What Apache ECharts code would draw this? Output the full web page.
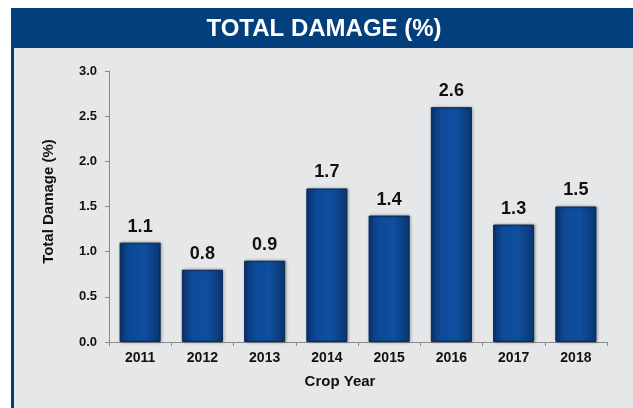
<!DOCTYPE html>
<html>
<head>
<meta charset="utf-8">
<script src="https://cdn.jsdelivr.net/npm/echarts@6/dist/echarts.min.js"></script>
<style>
  html, body { margin: 0; padding: 0; background: #fff; }
  #chart { width: 633px; height: 408px; }
</style>
</head>
<body>
<div id="chart"></div>
<script>
// data
const years = ['2011', '2012', '2013', '2014', '2015', '2016', '2017', '2018'];
const damage = [1.1, 0.8, 0.9, 1.7, 1.4, 2.6, 1.3, 1.5];
const yTicks = [0, 0.5, 1.0, 1.5, 2.0, 2.5, 3.0];

const chart = echarts.init(document.getElementById('chart'));

const FONT = '"Liberation Sans", Arial, sans-serif';

const barFill = new echarts.graphic.LinearGradient(0, 0, 1, 0, [
  { offset: 0, color: '#0a3572' },
  { offset: 0.25, color: '#0d4a98' },
  { offset: 0.6, color: '#0f4f9f' },
  { offset: 1, color: '#0a3670' }
]);

const option = {
  animation: false,
  graphic: [
    // gray panel + blue frame
    { type: 'rect', z: -10, shape: { x: 11, y: 8, width: 622, height: 400 }, style: { fill: '#e6e7e8' } },
    { type: 'rect', z: -9, shape: { x: 11, y: 8, width: 622, height: 40 }, style: { fill: '#033f7d' } },
    { type: 'rect', z: -9, shape: { x: 11, y: 8, width: 3, height: 400 }, style: { fill: '#033f7d' } },
    {
      type: 'text', x: 324, y: 29, z: 5,
      style: {
        text: 'TOTAL DAMAGE (%)', fill: '#fff',
        align: 'center', verticalAlign: 'middle',
        font: 'bold 24px ' + FONT
      }
    }
  ],
  grid: { left: 109, right: 26, top: 71, bottom: 66 },
  xAxis: {
    type: 'category',
    data: years,
    name: 'Crop Year',
    nameLocation: 'middle',
    nameGap: 32,
    nameTextStyle: { fontFamily: FONT, fontWeight: 'bold', fontSize: 15, color: '#111', padding: [0, 36, 0, 0] },
    axisLine: { lineStyle: { color: '#8a8a8a', width: 1 } },
    axisTick: { show: true, length: 4, lineStyle: { color: '#8a8a8a' } },
    axisLabel: { fontFamily: FONT, fontWeight: 'bold', fontSize: 14, color: '#111', margin: 9 }
  },
  yAxis: {
    type: 'value',
    min: yTicks[0],
    max: yTicks[yTicks.length - 1],
    interval: 0.5,
    name: 'Total Damage (%)',
    nameLocation: 'middle',
    nameGap: 53,
    nameTextStyle: { fontFamily: FONT, fontWeight: 'bold', fontSize: 15, color: '#111', padding: [0, 0, 0, 10] },
    axisLine: { show: true, lineStyle: { color: '#8a8a8a', width: 1 } },
    axisTick: { show: true, length: 4, lineStyle: { color: '#8a8a8a' } },
    splitLine: { show: false },
    axisLabel: {
      fontFamily: FONT, fontWeight: 'bold', fontSize: 13, color: '#111', margin: 12,
      formatter: v => v.toFixed(1)
    }
  },
  series: [{
    type: 'bar',
    data: damage,
    barWidth: '66%',
    itemStyle: {
      color: barFill,
      borderColor: '#07295a',
      borderWidth: 1,
      shadowColor: 'rgba(0,0,0,0.35)',
      shadowBlur: 3,
      shadowOffsetX: 1,
      shadowOffsetY: 0
    },
    label: {
      show: true,
      position: 'top',
      distance: 7,
      formatter: p => p.value.toFixed(1),
      fontFamily: FONT,
      fontWeight: 'bold',
      fontSize: 18,
      color: '#111'
    }
  }]
};

chart.setOption(option);
</script>
</body>
</html>
